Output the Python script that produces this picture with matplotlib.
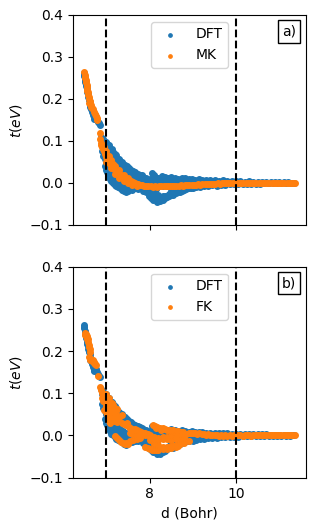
import matplotlib
matplotlib.use("Agg")
import matplotlib.pyplot as plt

# ---------------- DFT hopping (same in both panels) ----------------
dft_d = [6.47, 6.48, 6.49, 6.50, 6.50, 6.51, 6.52, 6.53, 6.54, 6.55, 6.56, 6.57, 6.58, 6.59, 6.60,
         6.61, 6.62, 6.63, 6.64, 6.66, 6.68, 6.70, 6.72, 6.74, 6.76, 6.78, 6.80, 6.83, 6.86,
         6.88, 6.89, 6.91, 6.93, 6.95, 6.97, 7.00, 7.02, 7.04, 7.06, 7.08, 7.10, 7.13, 7.16, 7.19,
         7.22, 7.25, 7.28, 7.31, 7.35, 7.39, 7.43, 7.47, 7.52, 7.57, 7.62, 7.67, 7.72, 7.77, 7.82,
         6.95, 7.00, 7.05, 7.10, 7.15, 7.20, 7.25, 7.30, 7.35, 7.40, 7.45, 7.50, 7.55, 7.60, 7.65,
         7.70, 7.75, 7.80,
         6.90, 6.93, 6.96, 6.99, 7.02, 7.06, 7.10, 7.15, 7.20, 7.26, 7.32, 7.38, 7.45, 7.52, 7.60,
         7.68, 7.76,
         7.00, 7.05, 7.10, 7.15, 7.20, 7.25, 7.30, 7.35, 7.40, 7.45, 7.50, 7.55, 7.60, 7.65, 7.70,
         7.75,
         6.96, 6.99, 7.02, 7.05, 7.08, 7.11, 7.15, 7.19, 7.23, 7.27, 7.31, 7.35, 7.40, 7.45, 7.50,
         7.55, 7.60, 7.66, 7.72, 7.78,
         7.85, 7.92, 8.00, 8.06, 8.10, 8.13, 8.20, 8.28, 8.35, 8.42, 8.50, 8.58, 8.66, 8.74, 8.82,
         8.90, 8.98, 9.06, 9.14,
         7.90, 8.00, 8.10, 8.20, 8.30, 8.40, 8.50, 8.60, 8.70, 8.80, 8.90, 9.00, 9.10,
         7.85, 7.92, 8.00, 8.05, 8.10, 8.15, 8.20, 8.25, 8.30, 8.35, 8.40, 8.45, 8.50, 8.55, 8.60,
         8.65, 8.70, 8.75, 8.80, 8.85, 8.90, 8.95, 9.00, 9.05, 9.10, 9.15,
         7.85, 7.92, 7.98, 8.03, 8.08, 8.12, 8.16, 8.20, 8.25, 8.30, 8.35, 8.40, 8.45, 8.50, 8.55,
         8.60, 8.65, 8.70, 8.75, 8.80, 8.85, 8.90, 8.95, 9.00, 9.08, 9.16,
         8.00, 8.10, 8.20, 8.30, 8.40, 8.50, 8.60, 8.70,
         8.05, 8.15, 8.25, 8.35, 8.45, 8.55, 8.65,
         9.20, 9.25, 9.30, 9.35, 9.40, 9.45, 9.50, 9.55, 9.60, 9.65, 9.70, 9.75, 9.80, 9.85, 9.90,
         9.95, 10.00, 9.30, 9.50, 9.70, 9.90,
         10.05, 10.10, 10.15, 10.20, 10.25, 10.30, 10.35, 10.40, 10.45, 10.50, 10.55, 10.60, 10.65,
         10.70, 10.75, 10.80, 10.85, 10.90, 10.95, 11.00, 11.05, 11.10, 11.15, 11.20, 11.25, 11.30,
         11.35]
dft_t = [0.262, 0.255, 0.258, 0.248, 0.240, 0.245, 0.236, 0.232, 0.228, 0.222, 0.216, 0.212, 0.205, 0.198, 0.200,
         0.192, 0.186, 0.180, 0.176, 0.170, 0.163, 0.156, 0.152, 0.162, 0.157, 0.150, 0.146, 0.142, 0.138,
         0.110, 0.098, 0.104, 0.095, 0.100, 0.090, 0.098, 0.092, 0.086, 0.090, 0.082, 0.078, 0.080, 0.074, 0.070,
         0.066, 0.060, 0.056, 0.052, 0.050, 0.046, 0.044, 0.040, 0.035, 0.032, 0.028, 0.025, 0.022, 0.020, 0.018,
         0.085, 0.075, 0.068, 0.060, 0.055, 0.050, 0.045, 0.040, 0.035, 0.030, 0.027, 0.024, 0.020, 0.015, 0.012,
         0.010, 0.008, 0.006,
         0.075, 0.065, 0.058, 0.050, 0.045, 0.040, 0.035, 0.030, 0.025, 0.020, 0.015, 0.010, 0.006, 0.003, 0.000,
         -0.003, -0.005,
         0.038, 0.028, 0.020, 0.014, 0.010, 0.005, 0.000, -0.004, -0.007, -0.008, -0.008, -0.006, -0.006, -0.004, -0.005,
         -0.003,
         0.040, 0.030, 0.025, 0.015, 0.010, 0.004, 0.000, -0.004, -0.008, -0.010, -0.013, -0.016, -0.019, -0.022, -0.018,
         -0.014, -0.016, -0.012, -0.014, -0.010,
         0.015, 0.012, 0.010, 0.023, 0.020, 0.015, 0.012, 0.016, 0.014, 0.012, 0.015, 0.012, 0.010, 0.013, 0.011,
         0.009, 0.010, 0.008, 0.009,
         0.005, 0.004, 0.008, 0.006, 0.007, 0.005, 0.006, 0.005, 0.004, 0.005, 0.003, 0.004, 0.003,
         -0.005, -0.008, -0.012, 0.000, -0.005, -0.015, -0.008, 0.002, -0.006, -0.004, -0.006, 0.004, -0.006, -0.012, 0.002,
         -0.008, -0.002, -0.010, 0.003, -0.005, -0.008, 0.002, -0.004, -0.006, 0.002, -0.003,
         -0.018, -0.022, -0.030, -0.035, -0.040, -0.038, -0.045, -0.042, -0.044, -0.040, -0.036, -0.033, -0.030, -0.028, -0.029,
         -0.025, -0.022, -0.021, -0.018, -0.016, -0.014, -0.012, -0.011, -0.012, -0.010, -0.009,
         -0.022, -0.026, -0.028, -0.030, -0.030, -0.018, -0.015, -0.013,
         -0.030, -0.035, -0.036, -0.030, -0.026, -0.022, -0.019,
         0.008, -0.008, 0.006, -0.006, 0.007, -0.005, 0.006, -0.006, 0.005, -0.004, 0.006, -0.004, 0.005, -0.003, 0.004,
         -0.003, 0.004, 0.000, -0.001, 0.000, 0.001,
         -0.003, 0.004, -0.002, 0.003, -0.002, 0.004, -0.002, 0.003, -0.002, 0.003, -0.002, 0.003, -0.001,
         0.003, -0.001, 0.002, -0.001, 0.002, -0.001, 0.002, -0.001, 0.002, -0.001, 0.002, -0.001, 0.001,
         0.000]

# ---------------- MK model (panel a) ----------------
mk_d = [6.49, 6.50, 6.51, 6.52, 6.53, 6.54, 6.55, 6.56, 6.57, 6.58, 6.59, 6.60, 6.61, 6.62, 6.63,
        6.64, 6.65, 6.67, 6.69, 6.71, 6.73, 6.75, 6.77, 6.79, 6.86, 6.50, 6.52, 6.55, 6.60,
        6.86, 6.87, 6.88, 6.90, 6.92, 6.94, 6.96, 6.98, 7.00, 7.02, 7.04, 7.06, 7.09, 7.12, 7.15,
        7.18, 7.21, 7.25, 7.29, 7.33, 7.37, 7.42, 7.47, 7.52, 7.57, 7.62, 7.67, 7.72, 7.77, 7.82,
        6.95, 7.00, 7.05, 7.10, 7.15, 7.20, 7.30, 7.40, 7.50, 7.00, 7.10, 7.20, 7.30, 7.40, 7.50,
        7.60, 7.70,
        7.87, 7.92, 7.97, 8.02, 8.07, 8.12, 8.17, 8.22, 8.27, 8.32, 8.37, 8.42, 8.47, 8.52, 8.57,
        8.62, 8.67, 8.72, 8.77, 8.82, 8.87, 8.92, 8.97, 9.02, 9.07, 9.12, 9.17, 9.22, 9.27, 9.32,
        9.37, 9.42, 9.47, 9.52, 9.57, 9.62, 9.67, 9.72, 9.77, 9.82, 9.87, 9.92, 9.97, 10.02, 10.07,
        10.12, 10.17, 10.22, 10.27, 10.32, 10.37, 10.42, 10.47, 10.52, 10.57, 10.62, 10.67, 10.72,
        10.77, 10.82, 10.87, 10.92, 10.97, 11.02, 11.07, 11.12, 11.17, 11.22, 11.27, 11.32, 11.37]
mk_t = [0.265, 0.258, 0.252, 0.246, 0.240, 0.234, 0.228, 0.222, 0.216, 0.210, 0.205, 0.200, 0.196, 0.192, 0.188,
        0.185, 0.182, 0.178, 0.175, 0.170, 0.165, 0.160, 0.155, 0.150, 0.118, 0.250, 0.240, 0.220, 0.190,
        0.105, 0.095, 0.090, 0.085, 0.080, 0.075, 0.070, 0.066, 0.062, 0.058, 0.054, 0.050, 0.046, 0.042, 0.038,
        0.034, 0.030, 0.026, 0.022, 0.018, 0.015, 0.012, 0.009, 0.006, 0.004, 0.002, 0.000, -0.002, -0.004, -0.005,
        0.085, 0.075, 0.065, 0.055, 0.045, 0.040, 0.030, 0.020, 0.012, 0.050, 0.035, 0.022, 0.012, 0.005, 0.000,
        -0.004, -0.006,
        -0.006, -0.007, -0.008, -0.008, -0.009, -0.008, -0.009, -0.008, -0.008, -0.007, -0.008, -0.007, -0.007, -0.006, -0.007,
        -0.006, -0.006, -0.005, -0.006, -0.005, -0.005, -0.004, -0.005, -0.004, -0.004, -0.003, -0.004, -0.003, -0.003, -0.002,
        -0.003, -0.002, -0.002, -0.002, -0.001, -0.002, -0.001, -0.001, -0.001, 0.000, -0.001, 0.000, 0.000, 0.000, -0.001,
        0.000, 0.000, 0.001, 0.000, 0.000, 0.000, 0.001, 0.000, 0.000, 0.000, 0.000, 0.001, 0.000,
        0.000, 0.000, 0.000, 0.000, 0.001, 0.000, 0.000, 0.000, 0.000, 0.000, 0.000, 0.000, 0.000]

# ---------------- FK model (panel b) ----------------
fk_d = [6.50, 6.51, 6.52, 6.53, 6.54, 6.55, 6.56, 6.57, 6.58, 6.59, 6.60, 6.61, 6.62, 6.60, 6.62,
        6.64, 6.66, 6.68, 6.70, 6.72, 6.74, 6.76, 6.80,
        6.86, 6.88, 6.90, 6.92, 6.95, 6.98, 7.00, 7.02, 7.04, 7.06, 7.08, 7.10, 7.12, 7.14, 7.16,
        7.18, 7.20, 7.22, 7.24, 6.98, 7.00, 7.02, 7.03, 7.05, 7.08, 7.12, 7.15, 7.20, 7.25, 7.30,
        7.37, 7.35, 7.40, 7.45, 7.48, 7.52, 7.56, 7.60, 7.65, 7.70, 7.75,
        6.90, 6.93, 6.96, 6.99, 7.02, 7.05, 7.08, 7.11, 7.14, 7.17, 7.20, 7.23, 7.26, 7.29,
        6.95, 7.00, 7.05, 7.10, 7.15, 7.20, 7.25,
        7.20, 7.25, 7.30, 7.34, 7.38, 7.42, 7.46, 7.50, 7.55, 7.60, 7.65, 7.70, 7.75, 7.80,
        7.55, 7.60, 7.65, 7.70, 7.75, 7.80, 7.85, 7.90, 7.95, 8.00, 7.55, 7.62, 7.70, 7.78,
        8.08, 8.12, 8.18, 8.24, 8.30, 8.36, 8.42, 8.48, 8.54, 8.60, 8.66, 8.72, 8.78,
        8.15, 8.27, 8.39, 8.51, 8.63, 8.75,
        7.85, 7.90, 7.95, 8.00, 8.05, 8.10, 8.20, 8.30, 8.40, 8.50, 8.60, 8.70, 8.80, 8.85, 8.90,
        8.95, 9.00, 9.05, 9.10, 9.15, 9.20, 9.25, 9.30, 9.35, 9.40, 9.45, 9.50, 9.55, 9.60, 9.65,
        9.70, 9.75, 9.80, 9.85, 9.90, 9.95, 10.00,
        8.00, 8.10, 8.20, 8.30, 8.40, 8.50, 8.60, 8.70, 8.80,
        8.10, 8.20, 8.30, 8.40, 8.50, 8.60, 8.70, 8.80, 8.90,
        7.90, 7.95, 8.00, 8.05, 8.10, 8.15, 8.20, 8.30, 8.40, 8.50, 8.60,
        8.25, 8.35, 8.45, 8.55, 8.65,
        10.05, 10.10, 10.15, 10.20, 10.25, 10.30, 10.35, 10.40, 10.45, 10.50, 10.55, 10.60, 10.65,
        10.70, 10.75, 10.80, 10.85, 10.90, 10.95, 11.00, 11.05, 11.10, 11.15, 11.20, 11.25, 11.30,
        11.37]
fk_t = [0.242, 0.238, 0.240, 0.236, 0.232, 0.236, 0.228, 0.222, 0.228, 0.215, 0.210, 0.205, 0.198, 0.185, 0.180,
        0.182, 0.176, 0.178, 0.172, 0.175, 0.170, 0.168, 0.142,
        0.115, 0.108, 0.100, 0.095, 0.090, 0.098, 0.092, 0.085, 0.080, 0.088, 0.075, 0.070, 0.078, 0.065, 0.072,
        0.060, 0.066, 0.058, 0.062, 0.070, 0.060, 0.050, 0.040, 0.035, 0.030, 0.040, 0.035, 0.045, 0.040, 0.035,
        0.049, 0.030, 0.028, 0.025, 0.030, 0.020, 0.015, 0.016, 0.012, 0.010, 0.008,
        0.088, 0.082, 0.080, 0.078, 0.072, 0.068, 0.062, 0.058, 0.055, 0.052, 0.050, 0.048, 0.046, 0.044,
        0.060, 0.055, 0.050, 0.045, 0.040, 0.035, 0.032,
        -0.002, -0.006, -0.010, -0.015, -0.018, -0.020, -0.018, -0.020, 0.006, 0.004, 0.002, 0.000, -0.002, 0.004,
        0.018, 0.014, 0.015, 0.012, 0.010, 0.008, 0.006, 0.005, 0.003, 0.001, -0.012, -0.010, -0.008, -0.006,
        0.025, 0.022, 0.020, 0.018, 0.017, 0.015, 0.014, 0.013, 0.012, 0.011, 0.010, 0.009, 0.009,
        0.017, 0.014, 0.012, 0.010, 0.008, 0.006,
        0.004, 0.002, 0.000, -0.002, -0.003, -0.004, -0.005, -0.004, -0.003, -0.002, -0.001, 0.000, 0.002, 0.004, 0.005,
        0.006, 0.005, 0.006, 0.004, 0.005, 0.003, 0.004, 0.002, 0.003, 0.001, 0.002, 0.000, 0.001, -0.001, 0.000,
        -0.001, 0.000, -0.002, 0.000, -0.001, 0.001, 0.000,
        -0.010, -0.011, -0.010, -0.008, -0.008, -0.010, -0.009, -0.008, -0.006,
        -0.020, -0.022, -0.027, -0.027, -0.024, -0.022, -0.020, -0.017, -0.013,
        -0.028, -0.030, -0.032, -0.034, -0.034, -0.035, -0.034, -0.033, -0.031, -0.030, -0.028,
        -0.030, -0.029, -0.028, -0.026, -0.024,
        0.000, 0.001, -0.001, 0.000, 0.001, 0.000, -0.001, 0.000, 0.001, 0.000, 0.000, 0.001, 0.000,
        0.000, 0.001, 0.000, 0.000, 0.000, 0.001, 0.000, 0.000, 0.000, 0.000, 0.000, 0.000, 0.000,
        0.000]

vlines = [7, 10]
panel_models = [("MK", mk_d, mk_t, "a)"), ("FK", fk_d, fk_t, "b)")]
xticks = [8, 10]
yticks = [-0.1, 0.0, 0.1, 0.2, 0.3, 0.4]

fig = plt.figure(figsize=(3.16, 5.30), dpi=100)
ax1 = fig.add_axes([0.231, 0.5755, 0.737, 0.3962])
ax2 = fig.add_axes([0.231, 0.0987, 0.737, 0.3981], sharex=ax1)

for ax, (name, md, mt, tag) in zip([ax1, ax2], panel_models):
    ax.scatter(dft_d, dft_t, s=16, color="#1f77b4", label="DFT", zorder=2)
    ax.scatter(md, mt, s=16, color="#ff7f0e", label=name, zorder=3)
    for v in vlines:
        ax.axvline(v, color="black", linestyle="--", linewidth=1.5, zorder=4)
    ax.set_ylim(-0.1, 0.4)
    ax.set_yticks(yticks)
    ax.set_ylabel("$t(eV)$")
    ax.legend(loc="upper center", markerscale=0.6)
    ax.text(0.958, 0.955, tag, transform=ax.transAxes, ha="right", va="top",
            bbox=dict(boxstyle="square,pad=0.3", facecolor="white", edgecolor="black"))

ax1.set_xticks(xticks)
ax1.tick_params(labelbottom=False)
ax2.set_xlabel("d (Bohr)")

fig.savefig("out.png", dpi=100)
